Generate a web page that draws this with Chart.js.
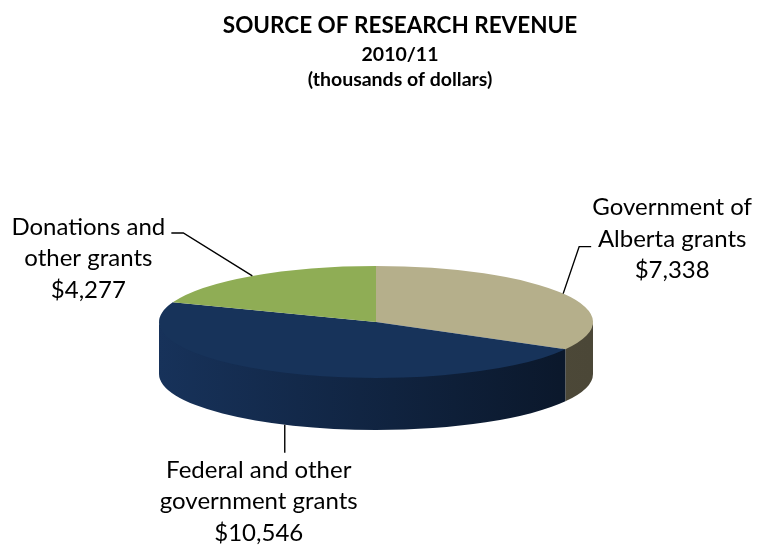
<!DOCTYPE html>
<html><head><meta charset="utf-8">
<script src="https://cdn.jsdelivr.net/npm/chart.js@4"></script>
<style>html,body{margin:0;padding:0;background:#fff}#wrap{width:757px;height:546px}</style>
</head><body><div id="wrap"><canvas id="c" width="757" height="546"></canvas></div>
<script>
const titleText = "SOURCE OF RESEARCH REVENUE";
const subtitleLines = ["2010/11", "(thousands of dollars)"];
const categories = ["Government of Alberta grants", "Federal and other government grants", "Donations and other grants"];
const labelLines = [["Government of", "Alberta grants"], ["Federal and other", "government grants"], ["Donations and", "other grants"]];
const revenue = [7338, 10546, 4277];
const topColors = ["#B5AF8B", "#17335A", "#8FAD55"];
const sideLeftColors = ["#57523F", "#17325A", "#6F8A3E"];
const sideRightColors = ["#4B4737", "#0A1628", "#5D7433"];

const SQUASH = 56 / 217;
const DEPTH = 52;
const FONT = "24px Lato";
const LINE_H = 31.5;

function fmt(v){ return "$" + v.toLocaleString("en-US"); }

// reserves empty space on the right so the pie sits left of the title centre
const rightSpacer = {
  id: "rightSpacer",
  beforeInit(chart){
    Chart.layouts.addBox(chart, {
      position: "right", weight: 0, fullSize: false, options: {},
      width: 0, height: 0, left: 0, top: 0, right: 0, bottom: 0,
      isHorizontal(){ return false; },
      update(maxW, maxH){ this.width = 48; this.height = maxH; return this; },
      getPadding(){ return {left: 0, right: 0, top: 0, bottom: 0}; },
      draw(){}
    });
  }
};

const pie3d = {
  id: "pie3d",
  beforeDatasetsDraw(chart){
    const arcs = chart.getDatasetMeta(0).data;
    const ctx = chart.ctx;
    const cx = arcs[0].x, cy = arcs[0].y, r = arcs[0].outerRadius, ry = r * SQUASH;
    arcs.forEach((a, i) => {
      const s = a.startAngle, e = a.endAngle;
      for (const off of [-2 * Math.PI, 0, 2 * Math.PI]) {
        const lo = Math.max(s, off), hi = Math.min(e, off + Math.PI);
        if (hi > lo) {
          const g = ctx.createLinearGradient(cx - r, 0, cx + r, 0);
          g.addColorStop(0, sideLeftColors[i]);
          g.addColorStop(1, sideRightColors[i]);
          ctx.beginPath();
          ctx.ellipse(cx, cy - 2, r, ry, 0, lo, hi, false);
          ctx.ellipse(cx, cy + DEPTH, r, ry, 0, hi, lo, true);
          ctx.closePath();
          ctx.fillStyle = g;
          ctx.fill();
        }
      }
    });
    ctx.save();
    ctx.translate(cx, cy); ctx.scale(1, SQUASH); ctx.translate(-cx, -cy);
  },
  afterDatasetsDraw(chart){
    const ctx = chart.ctx;
    ctx.restore();
    const arcs = chart.getDatasetMeta(0).data;
    const cx = arcs[0].x, cy = arcs[0].y, r = arcs[0].outerRadius, ry = r * SQUASH;
    ctx.save();
    ctx.strokeStyle = "#000"; ctx.lineWidth = 1.4;
    ctx.fillStyle = "#000"; ctx.font = FONT; ctx.textAlign = "center"; ctx.textBaseline = "middle";
    arcs.forEach((a, i) => {
      const t = (a.startAngle + a.endAngle) / 2;
      const px = cx + r * Math.cos(t);
      const py = cy + ry * Math.sin(t) + (Math.sin(t) > 0 ? DEPTH : 0);
      const lines = labelLines[i].concat([fmt(revenue[i])]);
      let pts, tx, ty;
      if (Math.sin(t) > 0.8) {            // bottom label
        pts = [[px, py], [px, py + 28]];
        tx = px - 26; ty = py + 45;
      } else if (Math.cos(t) > 0) {       // right label
        const ex = px + 16, ey = py - 47;
        pts = [[px, py], [ex, ey], [ex + 12, ey]];
        tx = ex + 93; ty = ey - 39;
      } else {                            // left label
        const ex = px - 69, ey = py - 43;
        pts = [[px, py], [ex, ey], [ex - 12, ey]];
        tx = ex - 95; ty = ey - 6;
      }
      ctx.beginPath();
      ctx.moveTo(pts[0][0], pts[0][1]);
      for (let k = 1; k < pts.length; k++) ctx.lineTo(pts[k][0], pts[k][1]);
      ctx.stroke();
      lines.forEach((l, k) => ctx.fillText(l, tx, ty + k * LINE_H));
    });
    ctx.restore();
  }
};

new Chart(document.getElementById("c"), {
  type: "pie",
  data: {
    labels: categories,
    datasets: [{ data: revenue, backgroundColor: topColors, borderWidth: 0, radius: 217, clip: false }]
  },
  options: {
    responsive: false,
    animation: false,
    events: [],
    layout: { padding: { top: 3, bottom: 0, left: 43, right: 0 } },
    plugins: {
      legend: { display: false },
      tooltip: { enabled: false },
      title: { display: true, text: titleText, color: "#000", font: { family: "Lato", size: 22.5, weight: "bold", lineHeight: 1.2 }, padding: { top: 9, bottom: 3.5 } },
      subtitle: { display: true, text: subtitleLines, color: "#000", font: { family: "Lato", size: 19.5, weight: "bold", lineHeight: 1.28 }, padding: { top: 0, bottom: 5.5 } }
    }
  },
  plugins: [rightSpacer, pie3d]
});
</script></body></html>
